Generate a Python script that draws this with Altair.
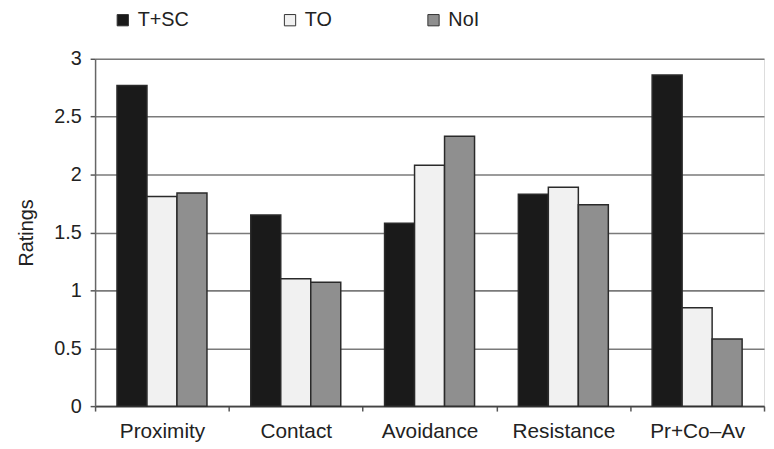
import altair as alt
import pandas as pd

categories = ["Proximity", "Contact", "Avoidance", "Resistance", "Pr+Co\u2013Av"]
groups = ["T+SC", "TO", "NoI"]
t_sc = [2.77, 1.65, 1.58, 1.83, 2.86]
to = [1.81, 1.10, 2.08, 1.89, 0.85]
noi = [1.84, 1.07, 2.33, 1.74, 0.58]
y_ticks = [0, 0.5, 1, 1.5, 2, 2.5, 3]

rows = []
for i, c in enumerate(categories):
    for g, vals in zip(groups, [t_sc, to, noi]):
        rows.append({"category": c, "group": g, "value": vals[i]})
df = pd.DataFrame(rows)

FONT = "Liberation Sans"

chart = alt.Chart(df).mark_bar(stroke="#2a2a2a", strokeWidth=1.5).encode(
    x=alt.X("category:N", sort=categories, title=None,
            scale=alt.Scale(paddingInner=0, paddingOuter=0),
            axis=alt.Axis(labelAngle=0, tickBand="extent", labelFontSize=21,
                          labelFont=FONT, labelColor="#222", labelPadding=10,
                          tickSize=5, tickColor="#555", tickWidth=1.5,
                          domainColor="#444", domainWidth=1.5, grid=False)),
    xOffset=alt.XOffset("group:N", sort=groups,
                        scale=alt.Scale(paddingInner=0, paddingOuter=0.73)),
    y=alt.Y("value:Q", title="Ratings",
            scale=alt.Scale(domain=[0, 3], nice=False),
            axis=alt.Axis(values=y_ticks, format="~g", labelFontSize=20,
                          labelFont=FONT, labelColor="#222", labelPadding=9,
                          tickSize=5, tickColor="#555", tickWidth=1.5,
                          domainColor="#666", domainWidth=1.5,
                          grid=True, gridColor="#7a7a7a", gridWidth=1.6,
                          titleFont=FONT, titleFontSize=20, titleFontWeight="normal",
                          titleColor="#222", titlePadding=17)),
    color=alt.Color("group:N", sort=groups,
                    scale=alt.Scale(domain=groups, range=["#1a1a1a", "#f1f1f1", "#8f8f8f"]),
                    legend=alt.Legend(title=None, orient="none", direction="horizontal",
                                      legendX=18, legendY=-49, padding=0,
                                      symbolType="square",
                                      symbolSize=130, symbolStrokeColor="#333",
                                      symbolStrokeWidth=1, labelFontSize=20,
                                      labelFont=FONT, labelColor="#222",
                                      columnPadding=92, labelOffset=5)),
).properties(
    width=676, height=351,
    autosize=alt.AutoSizeParams(type="none"),
    padding={"left": 88, "top": 49, "right": 2, "bottom": 40},
).configure_view(stroke=None).configure(background="white")

chart.save("out.html", embed_options={"renderer": "svg", "actions": False})
